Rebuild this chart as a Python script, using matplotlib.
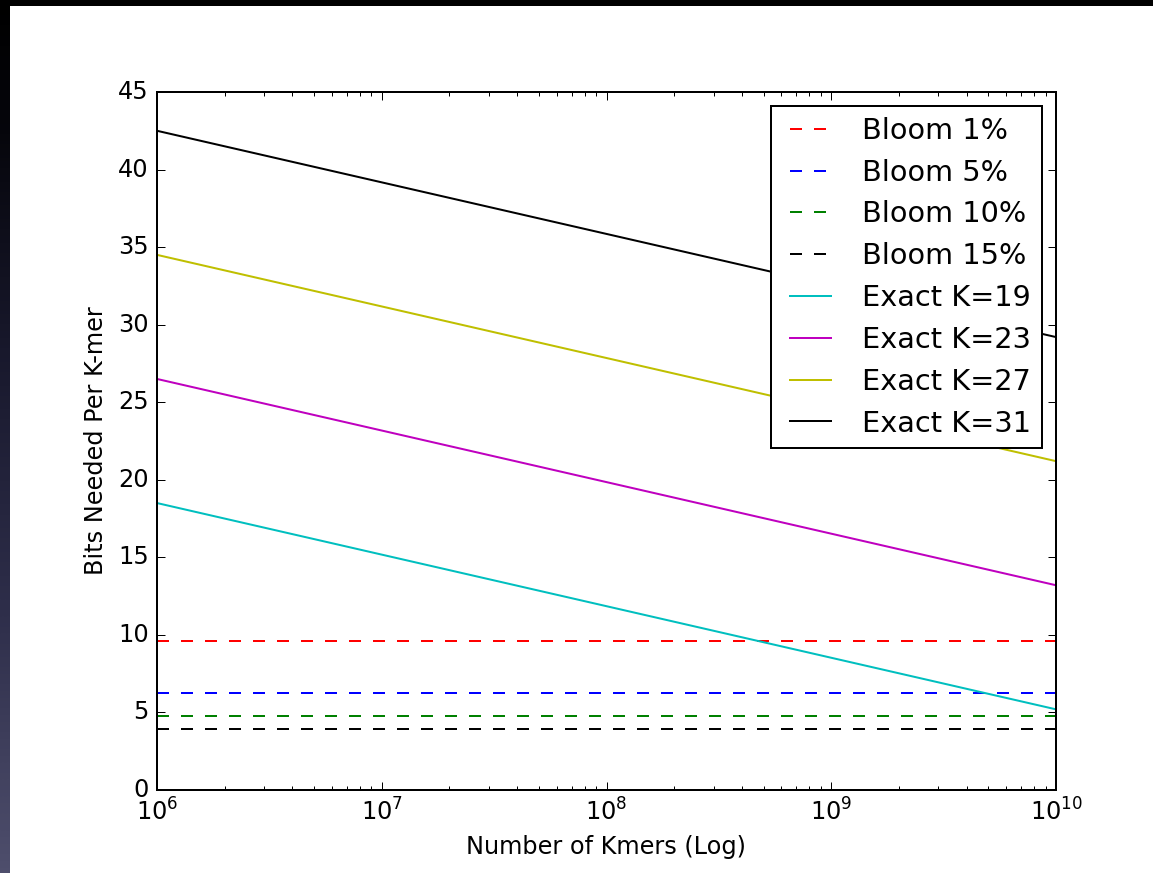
import numpy as np
import matplotlib
matplotlib.use("Agg")
import matplotlib.pyplot as plt
from matplotlib.colors import LinearSegmentedColormap
from matplotlib.patches import Rectangle

# x range (number of kmers, log scale)
kmers = [1e6, 1e10]

# bloom filter bits per kmer (flat)
bloom_labels = ["Bloom 1%", "Bloom 5%", "Bloom 10%", "Bloom 15%"]
bloom_bits = [9.6, 6.25, 4.8, 3.95]
bloom_colors = ["r", "b", "g", "k"]

# exact representation, bits at 1e6 and at 1e10
exact_labels = ["Exact K=19", "Exact K=23", "Exact K=27", "Exact K=31"]
exact_start = [18.5, 26.5, 34.5, 42.5]
exact_end = [5.2, 13.2, 21.2, 29.2]
exact_colors = ["c", "m", "y", "k"]

plt.style.use("classic")
plt.rcParams["mathtext.fontset"] = "dejavusans"

W, H, DPI = 1153, 873, 144
fig = plt.figure(figsize=(W / DPI, H / DPI), dpi=DPI, facecolor="white")

ax = fig.add_axes([157 / W, 1 - 790 / H, (1056 - 157) / W, (790 - 92) / H])

for lab, v, c in zip(bloom_labels, bloom_bits, bloom_colors):
    ax.plot(kmers, [v, v], "--", color=c, label=lab)
for lab, a, b, c in zip(exact_labels, exact_start, exact_end, exact_colors):
    ax.plot(kmers, [a, b], "-", color=c, label=lab)

ax.set_xscale("log")
ax.set_xlim(1e6, 1e10)
ax.set_ylim(0, 45)
ax.set_xlabel("Number of Kmers (Log)")
ax.set_ylabel("Bits Needed Per K-mer")
ax.legend(loc="upper right", borderpad=0.36, labelspacing=0.48)

# dark screenshot border (left strip gradient + top strip)
grad_ax = fig.add_axes([0, 0, 10 / W, 1])
cmap = LinearSegmentedColormap.from_list(
    "edge", [(0, "#000000"), (0.15, "#06060c"), (0.4, "#18182c"),
             (0.7, "#2e2e4a"), (1.0, "#4e4e6c")])
grad_ax.imshow(np.linspace(0, 1, 256).reshape(-1, 1), aspect="auto", cmap=cmap,
               extent=[0, 1, 1, 0])
grad_ax.set_axis_off()
fig.patches.append(Rectangle((0, 1 - 5 / H), 1, 5 / H, transform=fig.transFigure,
                             color="black", zorder=10))

fig.savefig("out.png", dpi=DPI, facecolor="white")
